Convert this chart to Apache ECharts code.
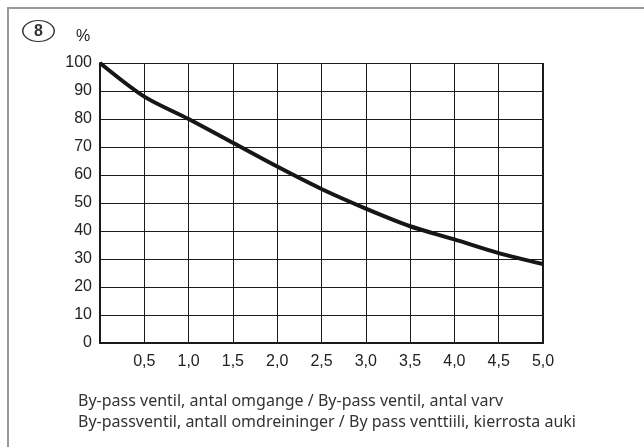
<!DOCTYPE html>
<html>
<head>
<meta charset="utf-8">
<script src="https://cdn.jsdelivr.net/npm/echarts@6/dist/echarts.min.js"></script>
<style>
  html, body { margin: 0; padding: 0; background: #fff; }
  #chart { width: 644px; height: 447px; }
</style>
</head>
<body>
<div id="chart"></div>
<script>
// turns of the by-pass valve vs percent
var turns = [0, 0.5, 1.0, 1.5, 2.0, 2.5, 3.0, 3.5, 4.0, 4.5, 5.0];
var percent = [100, 88, 80, 71.5, 63, 55, 48, 41.7, 37, 32.1, 28.2];
var footerLines = [
    'By-pass ventil, antal omgange / By-pass ventil, antal varv',
    'By-passventil, antall omdreininger / By pass venttiili, kierrosta auki'
];

var labelFont = "'Liberation Sans', Arial, sans-serif";
var footerFont = "'Noto Sans', sans-serif";

var myChart = echarts.init(document.getElementById('chart'));

var points = turns.map(function (t, i) { return [t, percent[i]]; });

var option = {
    animation: false,
    grid: { left: 100, right: 101, top: 63, bottom: 104 },
    xAxis: {
        type: 'value',
        min: 0,
        max: 5,
        interval: 0.5,
        axisLine: { show: true, lineStyle: { color: '#1a1a1a', width: 2 } },
        axisTick: { show: false },
        splitLine: { show: true, lineStyle: { color: '#1a1a1a', width: 1 } },
        axisLabel: {
            margin: 11,
            color: '#222',
            fontFamily: labelFont,
            fontSize: 16,
            formatter: function (v) {
                if (v === 0) return '';
                return v.toFixed(1).replace('.', ',');
            }
        }
    },
    yAxis: {
        type: 'value',
        min: 0,
        max: 100,
        interval: 10,
        axisLine: { show: true, lineStyle: { color: '#1a1a1a', width: 2 } },
        axisTick: { show: false },
        splitLine: { show: true, lineStyle: { color: '#1a1a1a', width: 1 } },
        axisLabel: {
            margin: 8,
            color: '#222',
            fontFamily: labelFont,
            fontSize: 16
        }
    },
    series: [{
        type: 'line',
        data: points,
        smooth: 0.3,
        symbol: 'none',
        lineStyle: { color: '#161616', width: 4 }
    }],
    graphic: [
        // outer frame (top and left only)
        {
            type: 'polyline',
            shape: { points: [[8, 447], [8, 8], [644, 8]] },
            style: { stroke: '#9a9a9a', lineWidth: 2, fill: null }
        },
        // the right edge of the plot
        {
            type: 'line',
            shape: { x1: 543, y1: 63, x2: 543, y2: 344 },
            style: { stroke: '#1a1a1a', lineWidth: 2 }
        },
        {
            type: 'circle',
            x: 38.5, y: 31,
            scaleX: 1.5,
            shape: { cx: 0, cy: 0, r: 10.5 },
            style: { stroke: '#333', lineWidth: 1, fill: '#fff', strokeNoScale: true }
        },
        {
            type: 'text',
            x: 38.5, y: 31.5,
            style: {
                text: '8', fill: '#333', font: "bold 16px 'Liberation Sans', Arial, sans-serif",
                align: 'center', verticalAlign: 'middle'
            }
        },
        {
            type: 'text',
            x: 83, y: 37,
            style: {
                text: '%', fill: '#222', font: "16px 'Liberation Sans', Arial, sans-serif",
                align: 'center', verticalAlign: 'middle'
            }
        },
        {
            type: 'text',
            x: 78, y: 401,
            style: {
                text: footerLines[0], fill: '#333', font: "16px 'Noto Sans', sans-serif",
                verticalAlign: 'middle'
            }
        },
        {
            type: 'text',
            x: 78, y: 422,
            style: {
                text: footerLines[1], fill: '#333', font: "16px 'Noto Sans', sans-serif",
                verticalAlign: 'middle'
            }
        }
    ]
};

myChart.setOption(option);
</script>
</body>
</html>
